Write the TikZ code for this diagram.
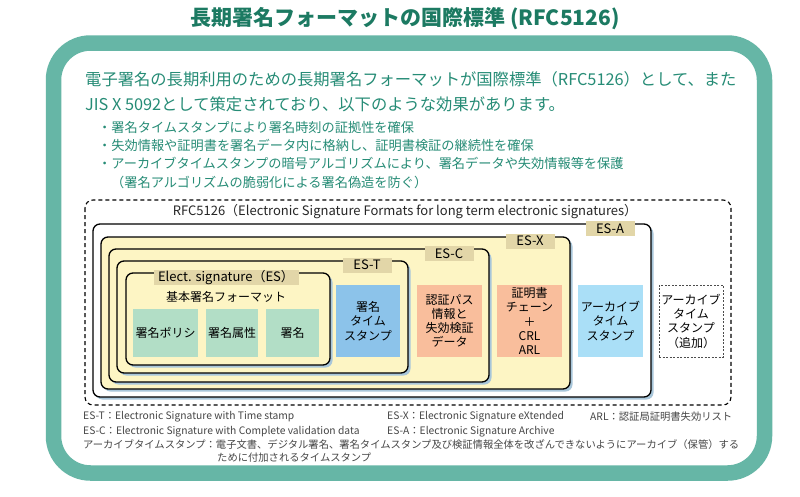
\documentclass[tikz,border=0pt]{standalone}
\usepackage{fontspec}
\setmainfont{Noto Sans CJK JP}
\usetikzlibrary{shadows}

\definecolor{framegreen}{RGB}{102,182,166}
\definecolor{titlegreen}{RGB}{28,122,98}
\definecolor{textteal}{RGB}{38,140,118}
\definecolor{layeryellow}{RGB}{253,245,196}
\definecolor{tagtan}{RGB}{226,214,168}
\definecolor{mint}{RGB}{178,222,198}
\definecolor{stampblue}{RGB}{140,195,234}
\definecolor{salmon}{RGB}{249,190,156}
\definecolor{archiveblue}{RGB}{170,223,247}
\definecolor{shadowblue}{RGB}{168,198,218}
\definecolor{legendgray}{RGB}{70,70,70}

\newcommand{\fs}[2]{\fontsize{#1}{#2}\selectfont}

\begin{document}
\begin{tikzpicture}[x=1pt, y=-1pt,
    layer/.style={draw=black, line width=1.3pt, rounded corners=7pt,
      drop shadow={shadow xshift=2.5pt, shadow yshift=-2.5pt, fill=shadowblue, opacity=1}},
    tag/.style={fill=tagtan, inner sep=0pt, minimum height=15pt, minimum width=49pt, font=\fs{13}{15}},
    part/.style={fill=mint, inner sep=0pt, minimum height=48pt, font=\fs{12}{14}},
    unit/.style={inner sep=0pt, minimum width=65pt, minimum height=72pt, align=center, font=\fs{12}{14.3}},
    lead/.style={anchor=west, inner sep=0pt, text=textteal, font=\fs{16.3}{18}},
    bullet/.style={anchor=west, inner sep=0pt, text=textteal, font=\fs{13.2}{15}},
    legend/.style={anchor=west, inner sep=0pt, text=legendgray, font=\fs{10.3}{12}}]

  \useasboundingbox[fill=white] (0,0) rectangle (800,496);

  % green frame
  \draw[framegreen, line width=15.5pt, rounded corners=37pt] (53.5,43) rectangle (764.5,473);

  \node (title) at (405,19) [text=titlegreen, font=\fs{21}{24}\bfseries] {長期署名フォーマットの国際標準 (RFC5126)};

  \node (lead1) [lead] at (85,79) {電子署名の長期利用のための長期署名フォーマットが国際標準（RFC5126）として、また};
  \node (lead2) [lead] at (85,104) {JIS X 5092として策定されており、以下のような効果があります。};

  \node (pt1) [bullet] at (98,127) {・署名タイムスタンプにより署名時刻の証拠性を確保};
  \node (pt2) [bullet] at (98,145) {・失効情報や証明書を署名データ内に格納し、証明書検証の継続性を確保};
  \node (pt3) [bullet] at (98,163) {・アーカイブタイムスタンプの暗号アルゴリズムにより、署名データや失効情報等を保護};
  \node (pt4) [bullet] at (111,182) {（署名アルゴリズムの脆弱化による署名偽造を防ぐ）};

  % RFC5126 dashed box
  \draw[line width=1.1pt, dash pattern=on 4pt off 3pt, rounded corners=8pt] (85,200) rectangle (731,405);
  \node (rfc) at (405,212) [text=black!85, font=\fs{13}{15}] {RFC5126（Electronic Signature Formats for long term electronic signatures）};

  % nested formats
  \draw[layer, fill=white] (93,224) rectangle (651,397);
  \draw[layer, fill=layeryellow] (101,237) rectangle (570,389);
  \draw[layer, fill=layeryellow] (109,249) rectangle (489,382);
  \draw[layer, fill=layeryellow] (117,261) rectangle (408,373);
  \draw[layer, fill=layeryellow] (126,273) rectangle (330,365);

  \node (tagES) [tag, minimum width=145pt] at (226,277.5) {Elect. signature（ES）};
  \node (tagT) [tag] at (367,265) {ES-T};
  \node (tagC) [tag] at (449,253.5) {ES-C};
  \node (tagX) [tag] at (530,241) {ES-X};
  \node (tagA) [tag] at (610,228.5) {ES-A};

  \node (basic) at (226,297) [font=\fs{12}{14}] {基本署名フォーマット};
  \node (policy) [part, minimum width=65pt] at (165.5,333) {署名ポリシ};
  \node (attr) [part, minimum width=52pt] at (232,333) {署名属性};
  \node (sig) [part, minimum width=53pt] at (292.5,333) {署名};

  \node (stamp) [unit, fill=stampblue, minimum width=64pt] at (368,321) {署名\\タイム\\スタンプ};
  \node (path) [unit, fill=salmon] at (449.5,321) {認証パス\\情報と\\失効検証\\データ};
  \node (chain) [unit, fill=salmon] at (529.5,321) {証明書\\チェーン\\＋\\CRL\\ARL};
  \node (archive) [unit, fill=archiveblue] at (610.5,321) {アーカイブ\\タイム\\スタンプ};
  \node (extra) [unit, draw=black!70, line width=0.8pt, dash pattern=on 2pt off 1.5pt, minimum width=64pt] at (691,321) {アーカイブ\\タイム\\スタンプ\\（追加）};

  % legend
  \node (keyT) [legend] at (83,417) {ES-T：Electronic Signature with Time stamp};
  \node (keyC) [legend] at (83,432) {ES-C：Electronic Signature with Complete validation data};
  \node (keyX) [legend] at (387,417) {ES-X：Electronic Signature eXtended};
  \node (keyA) [legend] at (387,432) {ES-A：Electronic Signature Archive};
  \node (keyARL) [legend] at (590,417) {ARL：認証局証明書失効リスト};
  \node (keyAT) [legend] at (83,445) {アーカイブタイムスタンプ：電子文書、デジタル署名、署名タイムスタンプ及び検証情報全体を改ざんできないようにアーカイブ（保管）する};
  \node (keyAT2) [legend] at (217,458) {ために付加されるタイムスタンプ};
\end{tikzpicture}
\end{document}
